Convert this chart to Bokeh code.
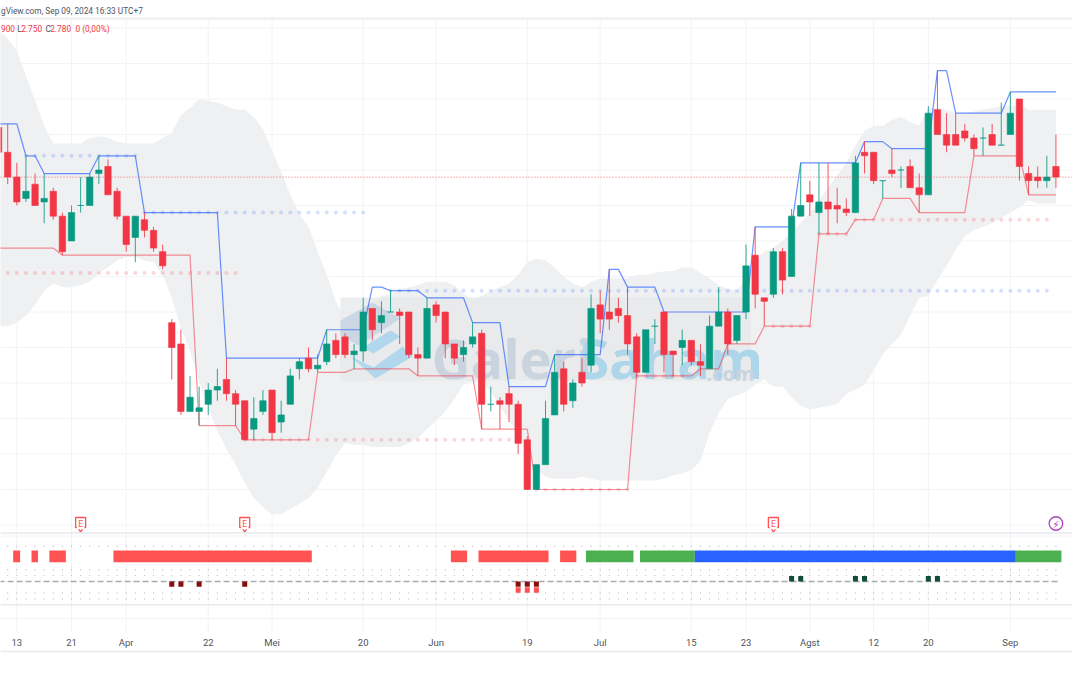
from bokeh.embed import file_html
from bokeh.resources import INLINE
from bokeh.plotting import figure
from bokeh.models import Range1d, LinearAxis, FixedTicker, Span
from bokeh.core.properties import value

open_ = [2920,2850,2780,2720,2760,2710,2740,2670,2600,2700,
 2700,2790,2810,2740,2670,2610,2660,2630,2570,2370,
 2310,2120,2120,2140,2180,2210,2170,2150,2070,2120,
 2180,2090,2140,2240,2270,2240,2260,2320,2330,2280,
 2290,2410,2370,2400,2400,2400,2280,2270,2420,2400,
 2310,2280,2310,2340,2140,2150,2170,2140,2040,1900,
 1970,2110,2240,2150,2230,2250,2420,2400,2410,2390,
 2330,2230,2360,2400,2290,2300,2320,2260,2240,2360,
 2400,2320,2400,2560,2440,2450,2570,2500,2670,2730,
 2680,2710,2700,2690,2680,2850,2850,2770,2800,2800,
 2810,2750,2730,2970,2900,2900,2910,2890,2890,2900,
 2870,2900,3000,2790,2780,2770,2810]
close = [2850,2780,2710,2740,2700,2720,2670,2570,2680,2700,
 2780,2800,2730,2670,2590,2670,2630,2580,2530,2300,
 2120,2160,2130,2180,2190,2170,2140,2040,2100,2150,
 2060,2110,2220,2260,2240,2250,2310,2280,2280,2290,
 2400,2350,2390,2400,2390,2280,2270,2410,2390,2310,
 2270,2300,2330,2140,2140,2140,2140,2030,1900,1970,
 2100,2230,2140,2200,2200,2410,2380,2380,2390,2310,
 2230,2350,2360,2280,2280,2320,2260,2250,2360,2400,
 2310,2390,2530,2450,2430,2570,2490,2670,2700,2710,
 2710,2690,2690,2680,2820,2840,2770,2770,2790,2800,
 2750,2730,2960,2900,2870,2870,2890,2860,2890,2870,
 2870,2960,2810,2770,2770,2780,2780]
high = [2930,2930,2820,2840,2790,2790,2750,2680,2700,2780,
 2790,2840,2830,2750,2670,2670,2680,2640,2590,2380,
 2350,2220,2190,2200,2240,2270,2180,2150,2160,2180,
 2180,2150,2240,2270,2300,2280,2350,2340,2340,2310,
 2440,2410,2430,2460,2410,2400,2300,2440,2430,2400,
 2310,2320,2370,2350,2190,2160,2190,2150,2050,1970,
 2150,2280,2260,2210,2270,2450,2460,2520,2440,2470,
 2340,2350,2380,2400,2290,2350,2320,2310,2390,2470,
 2410,2390,2590,2640,2440,2580,2580,2690,2820,2770,
 2820,2820,2750,2720,2840,2880,2850,2770,2860,2810,
 2830,2790,2980,3080,2960,2960,2930,2900,2920,2930,
 2990,3020,3000,2810,2810,2840,2900]
low = [2850,2760,2700,2710,2700,2650,2660,2560,2600,2680,
 2700,2760,2730,2660,2570,2540,2610,2570,2520,2210,
 2110,2120,2080,2110,2150,2150,2080,2040,2040,2110,
 2040,2060,2140,2210,2230,2230,2250,2270,2270,2240,
 2260,2320,2340,2400,2310,2270,2220,2270,2370,2270,
 2250,2260,2300,2070,2120,2070,2090,2000,1900,1900,
 1970,2110,2120,2130,2190,2230,2340,2350,2370,2280,
 2220,2230,2310,2230,2220,2250,2250,2220,2240,2360,
 2280,2310,2380,2410,2360,2440,2450,2500,2670,2670,
 2620,2620,2650,2670,2680,2790,2760,2720,2780,2750,
 2750,2680,2730,2900,2850,2870,2880,2840,2840,2870,
 2870,2900,2770,2730,2750,2750,2750]
resist = [2930,2930,2930,2840,2840,2790,2790,2790,2790,2790,
 2790,2840,2840,2840,2840,2840,2680,2680,2680,2680,
 2680,2680,2680,2680,2680,2270,2270,2270,2270,2270,
 2270,2270,2270,2270,2270,2270,2350,2350,2350,2350,
 2350,2470,2470,2460,2460,2460,2460,2440,2440,2440,
 2440,2440,2370,2370,2370,2370,2190,2190,2190,2190,
 2190,2280,2280,2280,2280,2280,2280,2520,2520,2470,
 2470,2470,2470,2400,2400,2400,2400,2400,2400,2400,
 2400,2400,2400,2640,2640,2640,2640,2640,2820,2820,
 2820,2820,2820,2820,2820,2880,2880,2880,2860,2860,
 2860,2860,2860,3080,3080,2960,2960,2960,2960,2960,
 2960,3020,3020,3020,3020,3020,3020]
support = [2580,2580,2580,2580,2580,2580,2580,2560,2560,2560,
 2560,2560,2560,2560,2560,2560,2560,2560,2560,2560,
 2560,2560,2080,2080,2080,2080,2080,2040,2040,2040,
 2040,2040,2040,2040,2040,2230,2230,2230,2230,2240,
 2240,2240,2240,2240,2240,2240,2220,2220,2220,2220,
 2220,2220,2220,2070,2070,2070,2070,2070,2070,1900,
 1900,1900,1900,1900,1900,1900,1900,1900,1900,1900,
 2220,2220,2220,2220,2220,2220,2220,2240,2240,2240,
 2310,2310,2310,2310,2360,2360,2360,2360,2360,2360,
 2620,2620,2620,2620,2660,2660,2660,2720,2720,2720,
 2720,2680,2680,2680,2680,2680,2680,2840,2840,2840,
 2840,2840,2840,2730,2730,2730,2730]
band_upper = [3195,3170,3135,3065,2995,2925,2875,2875,2875,2875,
 2890,2895,2890,2880,2875,2875,2875,2875,2890,2905,
 2955,2975,3000,2995,2990,2980,2970,2970,2950,2915,
 2855,2795,2730,2675,2640,2570,2505,2430,2380,2395,
 2410,2425,2445,2450,2465,2470,2475,2485,2485,2485,
 2475,2450,2435,2445,2460,2470,2480,2505,2540,2550,
 2545,2525,2500,2480,2470,2485,2495,2495,2495,2495,
 2505,2505,2510,2515,2515,2525,2525,2510,2495,2475,
 2465,2460,2490,2540,2570,2580,2600,2625,2650,2680,
 2715,2750,2785,2820,2870,2910,2925,2925,2940,2950,
 2935,2925,2975,2975,2970,2960,2960,2965,2970,2975,
 2980,2980,2985,2970,2970,2970,2970]
band_lower = [2360,2360,2370,2390,2420,2460,2480,2470,2470,2475,
 2485,2510,2525,2545,2555,2555,2545,2540,2505,2440,
 2355,2290,2205,2130,2065,2015,1970,1920,1875,1850,
 1830,1830,1845,1860,1875,1905,1950,1995,2030,2025,
 2025,2020,2020,2020,2020,2030,2045,2070,2095,2120,
 2155,2195,2205,2200,2175,2135,2095,2055,2005,1955,
 1935,1930,1930,1930,1935,1930,1925,1925,1925,1925,
 1925,1925,1925,1930,1940,1945,1955,1980,2060,2115,
 2155,2165,2175,2195,2210,2190,2190,2160,2135,2125,
 2130,2135,2140,2170,2180,2195,2235,2280,2310,2335,
 2390,2440,2445,2490,2530,2575,2615,2630,2640,2650,
 2665,2680,2695,2715,2705,2705,2705]
last_price = 2780
price_grid = [1800,1900,2000,2100,2200,2300,2400,2500,2600,2700,2800,2900,3000,3100,3200]
tick_bars = [2,8,14,23,30,40,48,58,66,76,82,89,96,102,111]
tick_labels = ["13","21","Apr","22","Mei","20","Jun","19","Jul","15","23","Agst","12","20","Sep"]
res_levels = [(3,15,2840),(16,40,2680),(43,115,2460)]
sup_levels = [(1,26,2510),(27,56,2040),(59,69,1900),(70,75,2220),(85,89,2360),(90,93,2620),(94,115,2660)]
strip_left = [1.60,3.61,5.57,12.6,49.62,52.65,61.6,64.44,70.37,76.38,111.6]
strip_right = [2.36,4.32,7.38,34.36,51.4,60.33,63.38,69.65,76.38,111.6,116.6]
strip_color = ["#ff5252"]*7 + ["#4caf50","#4caf50","#2962ff","#4caf50"]
bear_bars = [19,20,22,27,57,58,59]
bear2_bars = [57,58,59]
bull_bars = [87,88,94,95,102,103]
earn_bars = [9,27,85]
header = "gView.com, Sep 09, 2024 16:33 UTC+7"

W, H = 1072, 667
PX = 9.115
X0 = -1.9
def bx(px): return (px - X0) / PX
def py(y): return 2800 - (y - 169.5) * 2.817
IND_ZERO = 581.0
IND_PX = 5.5
def iy(y): return (IND_ZERO - y) / IND_PX

n = len(close)
idx = list(range(n))
UP, DOWN = "#089981", "#f23645"
colors = [UP if c >= o else DOWN for o, c in zip(open_, close)]
GRID = "#f2f3f6"
FONT = "Roboto"

p = figure(width=W, height=H, output_backend="svg", toolbar_location=None,
           x_range=Range1d(bx(0), bx(W)), y_range=Range1d(py(H), py(0)),
           min_border=0, outline_line_color=None,
           x_axis_type=None, y_axis_type=None, background_fill_color="white")
p.extra_y_ranges = {"ind": Range1d(iy(H), iy(0))}
p.xgrid.visible = False
p.ygrid.visible = False

p.segment(x0=[bx(0)]*len(price_grid), x1=[bx(W)]*len(price_grid), y0=price_grid, y1=price_grid,
          line_color=GRID, line_width=1, level="underlay")
p.segment(x0=tick_bars, x1=tick_bars, y0=[iy(632)]*len(tick_bars), y1=[iy(18)]*len(tick_bars),
          y_range_name="ind", line_color=GRID, line_width=1, level="underlay")

p.varea(x=idx, y1=band_lower, y2=band_upper, fill_color="#eff0f2")

p.quad(left=[bx(340)], right=[bx(750)], top=[py(297)], bottom=[py(380)], fill_color="#e5e7ea",
       fill_alpha=0.7, line_color=None)
p.patch(x=[bx(v) for v in (340,372,400,358,340)], y=[py(v) for v in (320,302,318,345,335)],
        fill_color="#c6d4e1", fill_alpha=0.85, line_color=None)
p.patch(x=[bx(v) for v in (362,390,400,373)], y=[py(v) for v in (347,330,336,353)],
        fill_color="#aad5ec", fill_alpha=0.9, line_color=None)
p.patch(x=[bx(v) for v in (350,375,412,402,373)], y=[py(v) for v in (356,378,356,346,367)],
        fill_color="#aad5ec", fill_alpha=0.9, line_color=None)
p.text(x=[bx(431)], y=[py(357)], text=["Galeri"], text_font=value("Open Sans"), text_font_size="54px",
       text_font_style="bold", text_color="#c9d4df", text_baseline="alphabetic")
p.text(x=[bx(579)], y=[py(357)], text=["Saham"], text_font=value("Open Sans"), text_font_size="54px",
       text_font_style="bold", text_color="#add6ea", text_baseline="alphabetic")
p.text(x=[bx(706)], y=[py(373)], text=[".com"], text_font=value("Open Sans"), text_font_size="20px",
       text_font_style="bold", text_color="#c9d4df", text_baseline="alphabetic")

for first, last, level in res_levels:
    xs = list(range(first, last + 1))
    p.scatter(x=xs, y=[level]*len(xs), size=4, fill_color="#2962ff", fill_alpha=0.2, line_color=None)
for first, last, level in sup_levels:
    xs = list(range(first, last + 1))
    p.scatter(x=xs, y=[level]*len(xs), size=4, fill_color="#f23645", fill_alpha=0.2, line_color=None)

p.line(idx, resist, line_color="#2962ff", line_width=1.2, line_alpha=0.7)
p.line(idx, support, line_color="#f23645", line_width=1.2, line_alpha=0.55)

p.add_layout(Span(location=last_price, dimension="width", line_color="#f23645", line_alpha=0.75,
                  line_dash="1 2", line_width=1))

p.segment(x0=idx, x1=idx, y0=low, y1=high, line_color=colors, line_width=1, line_alpha=0.85)
p.vbar(x=idx, width=0.7, top=[max(a, b) for a, b in zip(open_, close)],
       bottom=[min(a, b) for a, b in zip(open_, close)], fill_color=colors, line_color=colors, line_width=0.6)

for y, c, w in ((18, "#eceef2", 2), (532.5, "#e7e9ee", 1.5), (535.5, "#f2f3f6", 1), (604.3, "#e7e9ee", 1.5),
                (618, GRID, 1), (651, "#e8eaf2", 1.5)):
    p.add_layout(Span(location=iy(y), dimension="width", y_range_name="ind", line_color=c, line_width=w))

p.quad(left=strip_left, right=strip_right, top=[iy(550)]*len(strip_left), bottom=[iy(561.7)]*len(strip_left),
       y_range_name="ind", fill_color=strip_color, line_color=None)
for row in (545.7, 569.3, 575, 592.3, 598.3):
    p.scatter(x=idx, y=[iy(row)]*n, y_range_name="ind", size=1.2, fill_color="#b2b5be", line_color=None)
p.segment(x0=[0], x1=[116.3], y0=[0], y1=[0], y_range_name="ind", line_color="#a9abb0", line_width=1.5,
          line_dash="6 3")
p.vbar(x=bear_bars, width=0.55, top=[0]*len(bear_bars), bottom=[-0.95]*len(bear_bars), y_range_name="ind",
       fill_color="#880e0e", line_color=None)
p.vbar(x=bear2_bars, width=0.55, top=[-1.05]*len(bear2_bars), bottom=[-2.05]*len(bear2_bars), y_range_name="ind",
       fill_color="#ff5252", line_color=None)
p.vbar(x=bull_bars, width=0.55, top=[1]*len(bull_bars), bottom=[0]*len(bull_bars), y_range_name="ind",
       fill_color="#124d35", line_color=None)

p.scatter(x=earn_bars, y=[iy(526.5)]*3, y_range_name="ind", marker="inverted_triangle", size=9,
          fill_color="white", line_color="#ff5252", line_width=1.3)
p.scatter(x=earn_bars, y=[iy(522)]*3, y_range_name="ind", marker="square", size=10,
          fill_color="white", line_color="#ff5252", line_width=1.3)
p.scatter(x=earn_bars, y=[iy(525)]*3, y_range_name="ind", marker="square", size=7.5,
          fill_color="white", line_color=None)
p.text(x=earn_bars, y=[iy(523.5)]*3, y_range_name="ind", text=["E"]*3, text_font=value(FONT),
       text_font_size="8.5px", text_color="#ff5252", text_align="center", text_baseline="middle")
p.scatter(x=[116], y=[iy(523)], y_range_name="ind", marker="circle", size=13.5,
          fill_color="white", line_color="#ab47bc", line_width=1.3)
p.text(x=[116], y=[iy(523.5)], y_range_name="ind", text=["⚡"], text_font=value("DejaVu Sans"),
       text_font_size="10px", text_color="#ab47bc", text_align="center", text_baseline="middle")

p.text(x=[bx(0.5)], y=[py(10)], text=[header], text_font=value(FONT), text_font_size="8.3px",
       text_color="#50535e", text_align="left", text_baseline="middle")
for px_, txt, col, al in ((0.5, "900", "#f23645", "left"), (16.7, "L", "#50535e", "left"), (20.7, "2.750", "#f23645", "left"),
                          (45, "C", "#50535e", "left"), (49.7, "2.780", "#f23645", "left"), (75, "0 (0,00%)", "#f23645", "left")):
    p.text(x=[bx(px_)], y=[py(28)], text=[txt], text_font=value(FONT), text_font_size="8.3px",
           text_color=col, text_align=al, text_baseline="middle")

axis = LinearAxis(ticker=FixedTicker(ticks=tick_bars),
                  major_label_overrides={t: l for t, l in zip(tick_bars, tick_labels)},
                  fixed_location=py(636.5), axis_line_color=None, major_tick_line_color=None,
                  minor_tick_line_color=None, major_tick_out=0, major_tick_in=0,
                  major_label_text_font=FONT, major_label_text_font_size="9.5px",
                  major_label_text_color="#50535e", major_label_standoff=0)
p.add_layout(axis, "below")

open("out.html", "w").write(file_html(p, INLINE))
